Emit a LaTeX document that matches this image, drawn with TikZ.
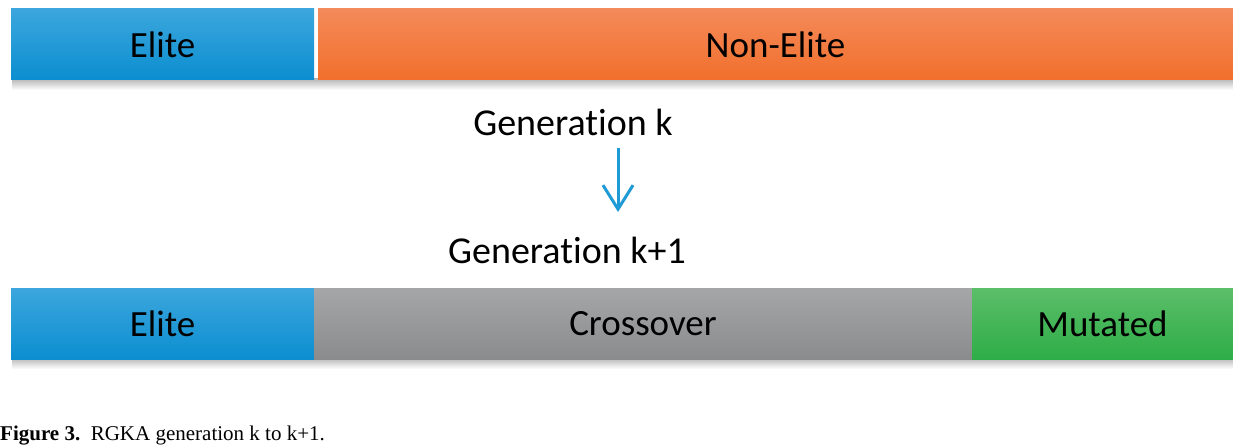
\documentclass[tikz,border=0pt]{standalone}
\usepackage{fontspec}
\setmainfont{Carlito}[Ligatures={NoCommon}]
\newfontfamily\capfont{Liberation Serif}
\usetikzlibrary{arrows.meta}
\definecolor{blueT}{HTML}{3CA6DD}
\definecolor{blueB}{HTML}{0B8ED0}
\definecolor{orangeT}{HTML}{F38A5A}
\definecolor{orangeB}{HTML}{F26F2B}
\definecolor{grayT}{HTML}{A4A6A7}
\definecolor{grayB}{HTML}{898B8D}
\definecolor{greenT}{HTML}{5BBE69}
\definecolor{greenB}{HTML}{2EAD47}
\definecolor{arrowblue}{HTML}{1E9AD6}
\tikzset{
  bar/.style={rectangle, inner sep=0pt, minimum height=71pt, text=black,
    font=\fontsize{37}{40}\selectfont},
  bluebar/.style={bar, top color=blueT, bottom color=blueB},
  orangebar/.style={bar, top color=orangeT, bottom color=orangeB},
  graybar/.style={bar, top color=grayT, bottom color=grayB},
  greenbar/.style={bar, top color=greenT, bottom color=greenB},
  gen/.style={font=\fontsize{38}{42}\selectfont, inner sep=0pt},
  barshadow/.style={top color=black!28, bottom color=white, draw=none},
}
\begin{document}
\begin{tikzpicture}[x=1pt,y=-1pt]
\useasboundingbox[fill=white] (0,0) rectangle (1233,446);
% shadows
\shade[barshadow] (12,79) rectangle (1233,90);
\shade[barshadow] (12,358) rectangle (1233,369);
% top row
\node[bluebar, minimum width=303pt] (e1) at (162.5,44.5) {Elite};
\node[orangebar, minimum width=915pt] (ne) at (775.5,44.5) {Non-Elite};
% generation labels
\node[gen] (gk) at (573,122) {Generation k};
\node[gen] (gk1) at (567,250) {Generation k+1};
\coordinate (a1) at (618,148);
\coordinate (a2) at (618,212);
\draw[arrowblue, line width=3pt, -{Straight Barb[length=24pt,width=30pt]}] (a1) -- (a2);
% bottom row
\node[bluebar, minimum width=303pt] (e2) at (162.5,324) {Elite};
\node[graybar, minimum width=658pt] (co) at (643,324) {Crossover};
\node[greenbar, minimum width=261pt] (mu) at (1102.5,324) {Mutated};
% caption
\node[anchor=base west, inner sep=0pt, font=\capfont\fontsize{21}{24}\selectfont] (cap) at (0,440)
  {\textbf{Figure 3.}\ \ RGKA generation k to k+1.};
\end{tikzpicture}
\end{document}
